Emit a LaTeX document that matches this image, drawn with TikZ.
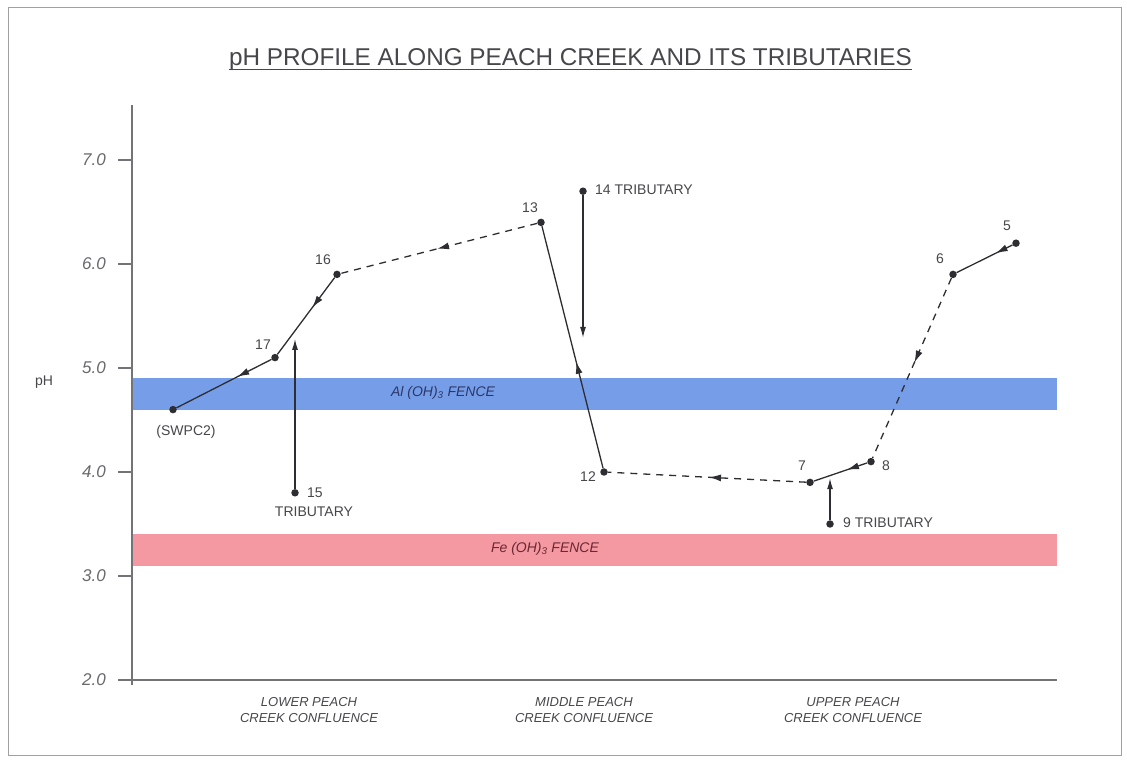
\documentclass[tikz,border=0pt]{standalone}
\usepackage{fontspec}
\setmainfont{Liberation Sans}
\usepackage{xcolor}
\usepackage{tikz}
\usetikzlibrary{arrows.meta,decorations.markings}
\definecolor{pcedge}{RGB}{45,45,50}
\definecolor{pcaxis}{RGB}{115,115,120}
\definecolor{pcframe}{RGB}{160,160,160}
\definecolor{pcal}{RGB}{118,158,232}
\definecolor{pcfe}{RGB}{244,152,162}
\definecolor{pcink}{RGB}{70,70,75}
\definecolor{pctick}{RGB}{105,105,110}
\definecolor{pcalink}{RGB}{45,55,105}
\definecolor{pcfeink}{RGB}{105,40,50}
\tikzset{
  pt/.style={circle, fill=pcedge, inner sep=0pt, minimum size=7.5pt},
  lab/.style={font=\fontsize{14}{16}\selectfont, text=pcink, inner sep=1pt},
  tick/.style={font=\fontsize{17}{19}\selectfont\itshape, text=pctick, anchor=east, inner sep=0pt},
  fence/.style={font=\fontsize{14}{16}\selectfont\itshape, inner sep=0pt},
  reach/.style={font=\fontsize{13}{16}\selectfont\itshape, text=pcink, align=center, inner sep=0pt},
  ttl/.style={font=\fontsize{24.3}{28}\selectfont, text=pcink, inner sep=0pt, anchor=base},
  axis/.style={draw=pcaxis, line width=1.1pt},
  flow/.style={draw=pcedge, line width=1.3pt, postaction={decorate},
    decoration={markings, mark=at position #1 with {\arrow{Latex[length=12pt,width=7pt]}}}},
  flow/.default=0.5,
  dflow/.style={flow=#1, dash pattern=on 7pt off 6pt},
  dflow/.default=0.5,
  trib/.style={-{Latex[length=11pt,width=6pt]}, draw=pcedge, line width=1.3pt}
}
\begin{document}
\begin{tikzpicture}[x=1pt,y=104pt]
  \useasboundingbox (0,1.2115) rectangle (1127,8.5385);
  \draw[pcframe, line width=1pt] (8,1.27) rectangle (1121,8.47);

  \node[ttl] (title) at (570.5,7.905) {pH PROFILE ALONG PEACH CREEK AND ITS TRIBUTARIES};
  \draw[pcink, line width=1pt] ([yshift=-4pt]title.base west) -- ([yshift=-4pt]title.base east);

  % fences
  \fill[pcal] (133,4.6) rectangle (1057,4.9);
  \fill[pcfe] (133,3.1) rectangle (1057,3.4);
  \node[fence, text=pcalink] (alf) at (443,4.76) {Al (OH)\textsubscript{3} FENCE};
  \node[fence, text=pcfeink] (fef) at (545,3.26) {Fe (OH)\textsubscript{3} FENCE};

  % axes
  \draw[axis] (132,7.53) -- (132,1.95);
  \draw[axis] (132,2) -- (1057,2);
  \foreach \v in {2,...,7}{
    \draw[axis] (118,\v) -- (132,\v);
    \node[tick] (tk\v) at (106,\v) {\v.0};
  }
  \node[lab] (yname) at (44,4.865) {pH};

  \node[reach] (lower) at (309,1.712) {LOWER PEACH\\CREEK CONFLUENCE};
  \node[reach] (middle) at (584,1.712) {MIDDLE PEACH\\CREEK CONFLUENCE};
  \node[reach] (upper) at (853,1.712) {UPPER PEACH\\CREEK CONFLUENCE};

  % stations
  \node[pt] (swpc) at (173,4.6) {};
  \node[pt] (p17) at (275,5.1) {};
  \node[pt] (p16) at (337,5.9) {};
  \node[pt] (p13) at (541,6.4) {};
  \node[pt] (p12) at (604,4.0) {};
  \node[pt] (p7) at (810,3.9) {};
  \node[pt] (p8) at (871,4.1) {};
  \node[pt] (p6) at (953,5.9) {};
  \node[pt] (p5) at (1016,6.2) {};
  \node[pt] (p15) at (295,3.8) {};
  \node[pt] (p14) at (583,6.7) {};
  \node[pt] (p9) at (830,3.5) {};

  \node[lab] (lswpc) at (186,4.385) {(SWPC2)};
  \node[lab] (l17) at (263,5.221) {17};
  \node[lab] (l16) at (323,6.04) {16};
  \node[lab] (l13) at (530,6.54) {13};
  \node[lab] (l12) at (588,3.96) {12};
  \node[lab] (l7) at (802,4.063) {7};
  \node[lab] (l8) at (886,4.063) {8};
  \node[lab] (l6) at (940,6.05) {6};
  \node[lab] (l5) at (1007,6.37) {5};
  \node[lab, anchor=west] (l15) at (306,3.8) {15};
  \node[lab] (l15b) at (314,3.615) {TRIBUTARY};
  \node[lab, anchor=west] (l14) at (594,6.71) {14 TRIBUTARY};
  \node[lab, anchor=west] (l9) at (842,3.51) {9 TRIBUTARY};

  % creek, downstream
  \draw[flow=0.3] (p5) -- (p6);
  \draw[dflow=0.47] (p6) -- (p8);
  \draw[flow=0.38] (p8) -- (p7);
  \draw[dflow=0.49] (p7) -- (p12);
  \draw[flow=0.44] (p12) -- (p13);
  \draw[dflow=0.51] (p13) -- (p16);
  \draw[flow=0.39] (p16) -- (p17);
  \draw[flow=0.36] (p17) -- (swpc);

  % tributaries
  \coordinate (e15) at (295,5.28);
  \coordinate (e14) at (583,5.29);
  \coordinate (e9) at (830,3.94);
  \draw[trib] (p15) -- (e15);
  \draw[trib] (p14) -- (e14);
  \draw[trib] (p9) -- (e9);
\end{tikzpicture}
\end{document}
